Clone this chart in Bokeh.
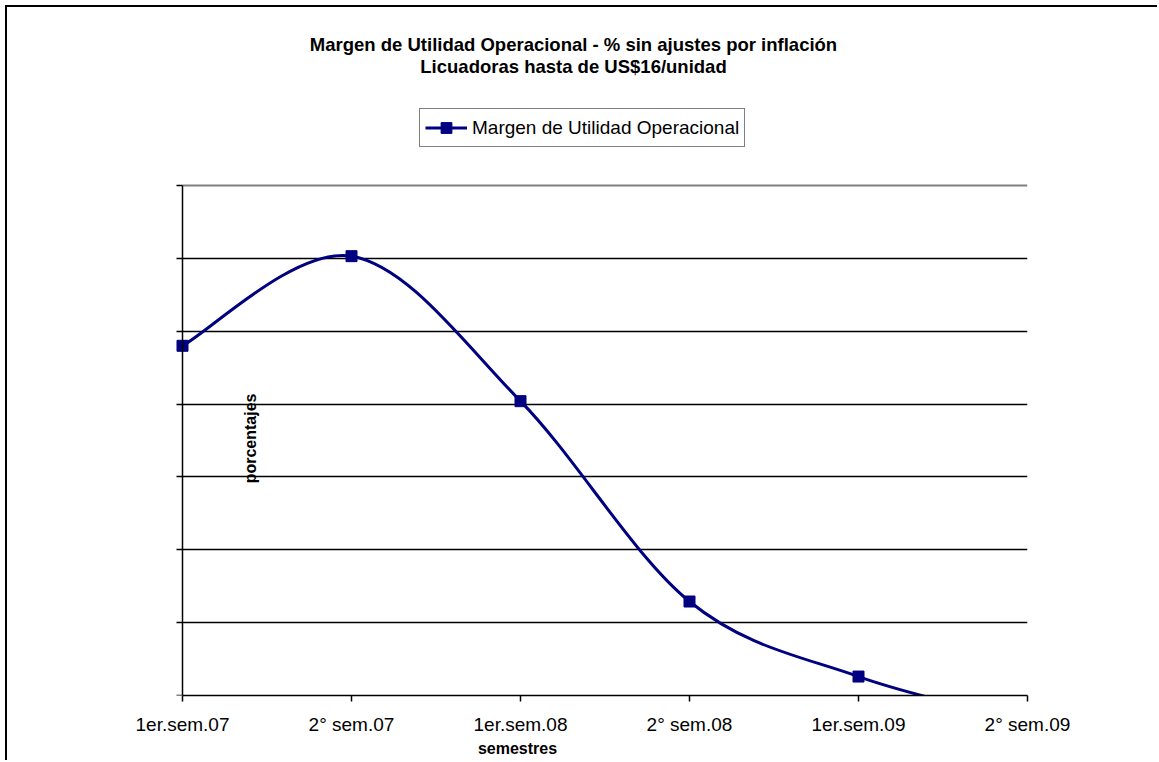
import math
from bokeh.plotting import figure
from bokeh.models import FixedTicker, Label, Legend, LegendItem, Grid
from bokeh.embed import file_html
from bokeh.resources import INLINE

# ---- data ----
semestres = ["1er.sem.07", "2° sem.07", "1er.sem.08", "2° sem.08", "1er.sem.09", "2° sem.09"]
margen = [24.0, 30.15, 20.2, 6.45, 1.3, -1.8]
y_ticks = [0, 5, 10, 15, 20, 25, 30, 35]
titulo_1 = "Margen de Utilidad Operacional - % sin ajustes por inflación"
titulo_2 = "Licuadoras hasta de US$16/unidad"
serie = "Margen de Utilidad Operacional"
eje_x = "semestres"
eje_y = "porcentajes"

FONT = "Liberation Sans"
NAVY = "#000080"

x = list(range(len(semestres)))
n = len(x)
x_end = x[-1]
y_top = y_ticks[-1]

# smoothed (Catmull-Rom style) bezier segments between the data points
x0, y0, x1, y1, cx0, cy0, cx1, cy1 = [], [], [], [], [], [], [], []
for i in range(n - 1):
    a = max(i - 1, 0)
    b = min(i + 2, n - 1)
    x0.append(x[i]); y0.append(margen[i])
    x1.append(x[i + 1]); y1.append(margen[i + 1])
    cx0.append(x[i] + (x[i + 1] - x[a]) / 6.0)
    cy0.append(margen[i] + (margen[i + 1] - margen[a]) / 6.0)
    cx1.append(x[i + 1] - (x[b] - x[i]) / 6.0)
    cy1.append(margen[i + 1] - (margen[b] - margen[i]) / 6.0)

W, H = 1152, 755
PX_X = 169.0      # px per category step
PX_Y = 510.0 / y_top  # px per percentage point
p = figure(
    width=W, height=H,
    x_range=(-175 / PX_X, x_end), y_range=(0, 688 / PX_Y),
    output_backend="svg", toolbar_location=None,
    min_border_left=0, min_border_top=0, min_border_right=132, min_border_bottom=67,
    background_fill_color="white", border_fill_color="white",
    styles={"margin-left": "5px", "margin-top": "5px",
            "border-left": "2px solid black", "border-top": "2px solid black"},
)
p.outline_line_color = None

# x axis
xa = p.xaxis[0]
xa.ticker = FixedTicker(ticks=x)
xa.bounds = (x[0], x_end)
xa.major_label_overrides = {i: s for i, s in enumerate(semestres)}
xa.major_tick_out = 6
xa.major_tick_in = 0
xa.minor_tick_line_color = None
xa.axis_line_color = "black"
xa.axis_line_width = 1.5
xa.major_tick_line_color = "black"
xa.major_tick_line_width = 1.5
xa.major_label_text_font = FONT
xa.major_label_text_font_size = "19px"
xa.major_label_text_color = "black"
xa.major_label_standoff = 12
xa.axis_label = eje_x
xa.axis_label_text_font = FONT
xa.axis_label_text_font_style = "bold"
xa.axis_label_text_font_size = "16px"
xa.axis_label_text_color = "black"
xa.axis_label_standoff = 2

# y axis (no labels)
ya = p.yaxis[0]
ya.fixed_location = 0
ya.bounds = (y_ticks[0], y_top)
ya.ticker = FixedTicker(ticks=y_ticks)
ya.major_tick_out = 6
ya.major_tick_in = 0
ya.minor_tick_line_color = None
ya.axis_line_color = "black"
ya.axis_line_width = 1.5
ya.major_tick_line_color = "black"
ya.major_tick_line_width = 1.5
ya.major_label_text_color = None

p.xgrid.visible = False
p.ygrid.ticker = FixedTicker(ticks=y_ticks[1:-1])
p.ygrid.cross_bounds = (x[0], x_end)
p.ygrid.grid_line_color = "black"
p.ygrid.grid_line_width = 1.5

# plot area top / right border
p.add_layout(Grid(dimension=1, ticker=FixedTicker(ticks=[y_top]), cross_bounds=(x[0], x_end),
                  grid_line_color="#808080", grid_line_width=2))
p.add_layout(Grid(dimension=0, ticker=FixedTicker(ticks=[x_end]), cross_bounds=(0, y_top),
                  grid_line_color="#a0a0a0", grid_line_width=2))

# series
bez = p.bezier(x0=x0, y0=y0, x1=x1, y1=y1, cx0=cx0, cy0=cy0, cx1=cx1, cy1=cy1,
               line_color=NAVY, line_width=3)
sc = p.scatter(x, margen, marker="square", size=11, fill_color=NAVY, line_color=NAVY)

legend = Legend(
    items=[LegendItem(label=serie, renderers=[bez, sc])],
    location=(412, 548),
    orientation="horizontal",
    border_line_color="black", border_line_width=1,
    background_fill_color="white", background_fill_alpha=1,
    padding=5, margin=0, spacing=0,
    glyph_width=42, glyph_height=27, label_height=25, label_standoff=5,
    label_text_font=FONT, label_text_font_size="19px", label_text_color="black",
)
p.add_layout(legend)

# titles and y axis title
TX = (573 - 182) / PX_X
p.add_layout(Label(x=TX, y=(695 - 44) / PX_Y, text=titulo_1, text_font=FONT, text_font_style="bold",
                   text_font_size="18.5px", text_align="center", text_baseline="middle",
                   text_color="black"))
p.add_layout(Label(x=TX, y=(695 - 66) / PX_Y, text=titulo_2, text_font=FONT, text_font_style="bold",
                   text_font_size="18.5px", text_align="center", text_baseline="middle",
                   text_color="black"))
p.add_layout(Label(x=0.402, y=17.64, text=eje_y, angle=math.pi / 2, text_font=FONT,
                   text_font_style="bold", text_font_size="16px", text_align="center",
                   text_baseline="middle", text_color="black"))

open("out.html", "w").write(file_html(p, INLINE))
